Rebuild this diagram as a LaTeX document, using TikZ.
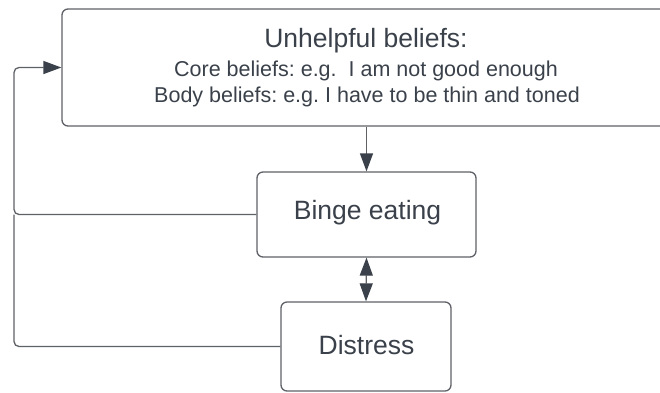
\documentclass[tikz,border=0pt]{standalone}
\usepackage{fontspec}
\setmainfont{Liberation Sans}
\usetikzlibrary{arrows.meta}
\definecolor{boxline}{HTML}{5E6167}
\definecolor{txt}{HTML}{3A414A}
\frenchspacing
\begin{document}
\begin{tikzpicture}[x=1pt,y=-1pt,
  box/.style={draw=boxline, line width=1.3pt, rounded corners=6pt, inner sep=0pt, fill=white},
  lbl/.style={text=txt, anchor=base, inner sep=0pt},
  big/.style={font=\fontsize{26.5}{30}\selectfont},
  small/.style={font=\fontsize{21.5}{25}\selectfont},
  conn/.style={draw=boxline, line width=1.3pt, rounded corners=5pt},
  tipend/.style={-{Triangle[length=18pt,width=13pt,color=txt]}},
  tipboth/.style={{Triangle[length=18pt,width=13pt,color=txt]}-{Triangle[length=18pt,width=13pt,color=txt]}}
]
\clip (0,0) rectangle (660,392);
\fill[white] (0,0) rectangle (660,392);
% boxes
\node[box, minimum width=608pt, minimum height=117pt] (top) at (366,67.5) {};
\node[box, minimum width=219pt, minimum height=85pt] (binge) at (366.5,214.5) {};
\node[box, minimum width=170pt, minimum height=89pt] (distress) at (366,346.5) {};
% texts
\node[lbl, big] (title) at (366,47) {Unhelpful beliefs:};
\node[lbl, small] (core) at (366,76) {Core beliefs: e.g.\ \ I am not good enough};
\node[lbl, small] (body) at (367,102) {Body beliefs: e.g. I have to be thin and toned};
\node[lbl, big] (bingetxt) at (367.5,219) {Binge eating};
\node[lbl, big] (distresstxt) at (366.5,354) {Distress};
% connectors
\coordinate (lft) at (14,0);
\draw[conn, tipend] (top.south -| binge.north) -- (binge.north);
\draw[conn, tipboth] (binge.south) -- (distress.north);
\draw[conn, tipend] (binge.west) -| (lft |- top.west) -- (top.west);
\draw[conn] (distress.west) -| (lft |- binge.west);
\end{tikzpicture}
\end{document}
